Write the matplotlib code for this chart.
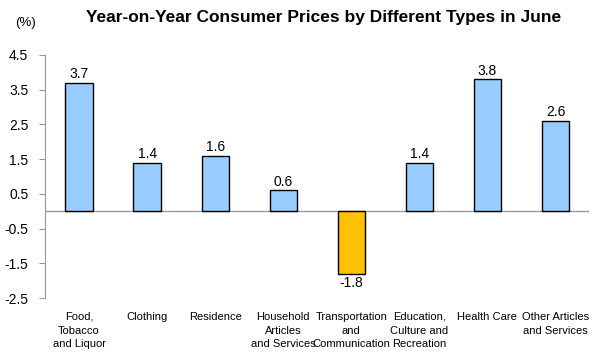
import matplotlib
matplotlib.use("Agg")
import matplotlib.pyplot as plt

plt.rcParams['font.family'] = ['Liberation Sans', 'DejaVu Sans']

categories = ["Food,\nTobacco\nand Liquor", "Clothing", "Residence",
              "Household\nArticles\nand Services", "Transportation\nand\nCommunication",
              "Education,\nCulture and\nRecreation", "Health Care",
              "Other Articles\nand Services"]
values = [3.7, 1.4, 1.6, 0.6, -1.8, 1.4, 3.8, 2.6]
yticks = [4.5, 3.5, 2.5, 1.5, 0.5, -0.5, -1.5, -2.5]
title = "Year-on-Year Consumer Prices by Different Types in June"

fig = plt.figure(figsize=(5.97, 3.57), dpi=100)
ax = fig.add_axes([0.0754, 0.165, 0.912, 0.681])

colors = ["#99CCFF" if v >= 0 else "#FFC000" for v in values]
x = range(len(values))
ax.bar(x, values, width=0.4, color=colors, edgecolor="black", linewidth=1, zorder=3)

for i, v in enumerate(values):
    if v >= 0:
        ax.text(i, v + 0.05, f"{v:.1f}", ha="center", va="bottom", fontsize=10)
    else:
        ax.text(i, v - 0.05, f"{v:.1f}", ha="center", va="top", fontsize=10)

ax.set_xlim(-0.5, 7.5)
ax.set_ylim(-2.5, 4.5)
ax.set_yticks(yticks)
ax.set_yticklabels([f"{t:.1f}" for t in yticks], fontsize=10)
ax.set_xticks([])
ax.axhline(0, color="#999999", linewidth=1, zorder=2)

for s in ["top", "right", "bottom"]:
    ax.spines[s].set_visible(False)
ax.spines["left"].set_color("#999999")
ax.tick_params(axis="y", length=4, color="#999999", pad=8)

for i, c in enumerate(categories):
    ax.text(i, -2.5 - 0.4, c, ha="center", va="top", fontsize=8, linespacing=1.45,
            transform=ax.transData)

fig.text(0.542, 0.95, title, ha="center", va="center", fontsize=12.5, fontweight="bold")
fig.text(0.042, 0.935, "(%)", ha="center", va="center", fontsize=9.5)

fig.savefig("out.png", dpi=100)
